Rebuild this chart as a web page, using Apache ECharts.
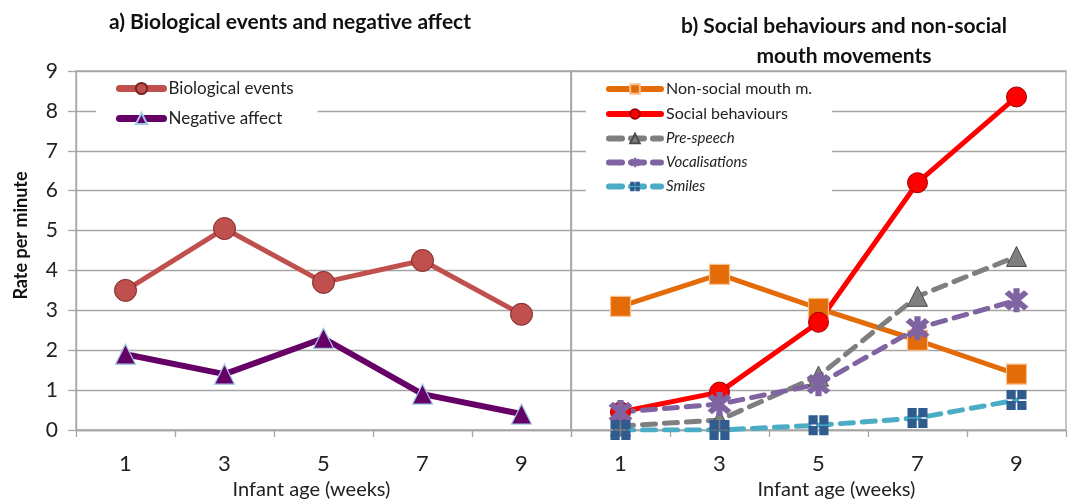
<!DOCTYPE html>
<html>
<head>
<meta charset="utf-8">
<script src="https://cdn.jsdelivr.net/npm/echarts@6/dist/echarts.min.js"></script>
<style>
html,body{margin:0;padding:0;background:#fff;}
#chart{width:1072px;height:500px;}
</style>
</head>
<body>
<div id="chart"></div>
<script>
// data
var weeks = ['1', '3', '5', '7', '9'];
var yTicks = [0, 1, 2, 3, 4, 5, 6, 7, 8, 9];
var biological = [3.5, 5.05, 3.7, 4.25, 2.9];
var negativeAffect = [1.9, 1.4, 2.3, 0.9, 0.4];
var nonSocialMouth = [3.1, 3.9, 3.05, 2.25, 1.4];
var socialBehaviours = [0.45, 0.95, 2.7, 6.2, 8.35];
var preSpeech = [0.1, 0.25, 1.35, 3.35, 4.35];
var vocalisations = [0.45, 0.65, 1.15, 2.55, 3.25];
var smiles = [0.0, 0.0, 0.12, 0.3, 0.75];

var FONT = 'Lato, "Open Sans", sans-serif';
var gridGray = '#a6a6a6';

// asterisk and split square markers
var asterisk = 'path://M-2.2,-10L2.2,-10L2.2,10L-2.2,10Z' +
	'M-5.3,-8.5L8.5,5.3L5.3,8.5L-8.5,-5.3Z' +
	'M8.5,-5.3L-5.3,8.5L-8.5,5.3L5.3,-8.5Z';
var splitSquare = 'path://M0,0L9.2,0L9.2,9.2L0,9.2Z M10.8,0L20,0L20,9.2L10.8,9.2Z' +
	'M0,10.8L9.2,10.8L9.2,20L0,20Z M10.8,10.8L20,10.8L20,20L10.8,20Z';

var myChart = echarts.init(document.getElementById('chart'));

function xAxisFor(idx){
	return {
		type:'category',
		gridIndex:idx,
		data:weeks,
		boundaryGap:true,
		name:'Infant age (weeks)',
		nameLocation:'middle',
		nameGap:48,
		nameTextStyle:{fontFamily:FONT,fontSize:20,color:'#222',
			padding:idx === 0 ? [0,24,0,0] : [0,0,0,36]},
		axisLine:{lineStyle:{color:gridGray,width:1.3}},
		axisTick:{show:true,length:7,lineStyle:{color:gridGray,width:1.3}},
		axisLabel:{margin:23,fontFamily:FONT,fontSize:22,color:'#222'}
	};
}
function yAxisFor(idx){
	var labels = idx === 0;
	return {
		type:'value',
		gridIndex:idx,
		min:yTicks[0],
		max:yTicks[yTicks.length-1],
		interval:1,
		name:labels ? 'Rate per minute' : '',
		nameLocation:'middle',
		nameGap:46,
		nameTextStyle:{fontFamily:FONT,fontSize:18,fontWeight:'bold',color:'#111',padding:[0,0,0,30]},
		axisLine:{show:true,lineStyle:{color:gridGray,width:1.3}},
		axisTick:{show:labels,length:8,lineStyle:{color:gridGray,width:1.3}},
		axisLabel:{show:labels,margin:18,fontFamily:FONT,fontSize:21,color:'#222'},
		splitLine:{lineStyle:{color:gridGray,width:1.3}}
	};
}

function lineSeries(name, data, idx, color, width, dashed, symbol, symbolSize, fill, border, borderWidth){
	return {
		name:name,
		type:'line',
		xAxisIndex:idx,
		yAxisIndex:idx,
		data:data,
		symbol:symbol,
		symbolSize:symbolSize,
		showAllSymbol:true,
		lineStyle:{color:color,width:width,type:dashed ? [13,9] : 'solid',cap:'round'},
		itemStyle:{color:fill,borderColor:border,borderWidth:borderWidth},
		emphasis:{disabled:true},
		z:3
	};
}

var option = {
	animation:false,
	backgroundColor:'#fff',
	title:[
		{text:'a) Biological events and negative affect',left:285,top:7,textAlign:'center',
			textStyle:{fontFamily:FONT,fontSize:21,fontWeight:'bold',color:'#111'}},
		{text:'b) Social behaviours and non-social\nmouth movements',left:839,top:6,textAlign:'center',
			textStyle:{fontFamily:FONT,fontSize:21,fontWeight:'bold',color:'#111',lineHeight:30,align:'center'}}
	],
	grid:[
		{left:76,right:501,top:71,bottom:70,show:true,borderColor:gridGray,borderWidth:1.3,outerBoundsMode:'none'},
		{left:571,right:6,top:71,bottom:70,show:true,borderColor:gridGray,borderWidth:1.3,outerBoundsMode:'none'}
	],
	legend:[
		{
			data:['Biological events','Negative affect'],
			orient:'vertical',left:96,top:77,itemWidth:44,itemHeight:14,itemGap:13,
			padding:[3,24,6,20],
			backgroundColor:'#fff',
			lineStyle:{width:7,cap:'round'},
			textStyle:{fontFamily:FONT,fontSize:17,color:'#222'}
		},
		{
			data:[
				{name:'Non-social mouth m.'},
				{name:'Social behaviours'},
				{name:'Pre-speech',textStyle:{fontStyle:'italic',fontSize:15}},
				{name:'Vocalisations',textStyle:{fontStyle:'italic',fontSize:15}},
				{name:'Smiles',textStyle:{fontStyle:'italic',fontSize:15}}
			],
			orient:'vertical',left:586,top:78,itemWidth:52,itemHeight:12,itemGap:9,
			padding:[3,20,5,20],
			backgroundColor:'#fff',
			lineStyle:{width:6,cap:'round'},
			textStyle:{fontFamily:FONT,fontSize:16,color:'#222'}
		}
	],
	xAxis:[xAxisFor(0),xAxisFor(1)],
	yAxis:[yAxisFor(0),yAxisFor(1)],
	series:[
		lineSeries('Biological events',biological,0,'#c0504d',5,false,'circle',22,'#c0504d','#7a2624',1),
		lineSeries('Negative affect',negativeAffect,0,'#660066',6,false,'triangle',20,'#660066','#9cc9e6',1.2),
		lineSeries('Non-social mouth m.',nonSocialMouth,1,'#e36c09',5,false,'rect',20,'#e36c09','#fac08f',1.2),
		lineSeries('Social behaviours',socialBehaviours,1,'#ff0000',5,false,'circle',20,'#ff0000','#a00000',1),
		lineSeries('Pre-speech',preSpeech,1,'#7f7f7f',5,true,'triangle',20,'#7f7f7f','#4d4d4d',1),
		lineSeries('Vocalisations',vocalisations,1,'#8064a2',5,true,asterisk,24,'#8064a2','#8064a2',0),
		lineSeries('Smiles',smiles,1,'#4bacc6',5,true,splitSquare,20,'#2f5b8f','#2f5b8f',0)
	]
};
myChart.setOption(option);
</script>
</body>
</html>
